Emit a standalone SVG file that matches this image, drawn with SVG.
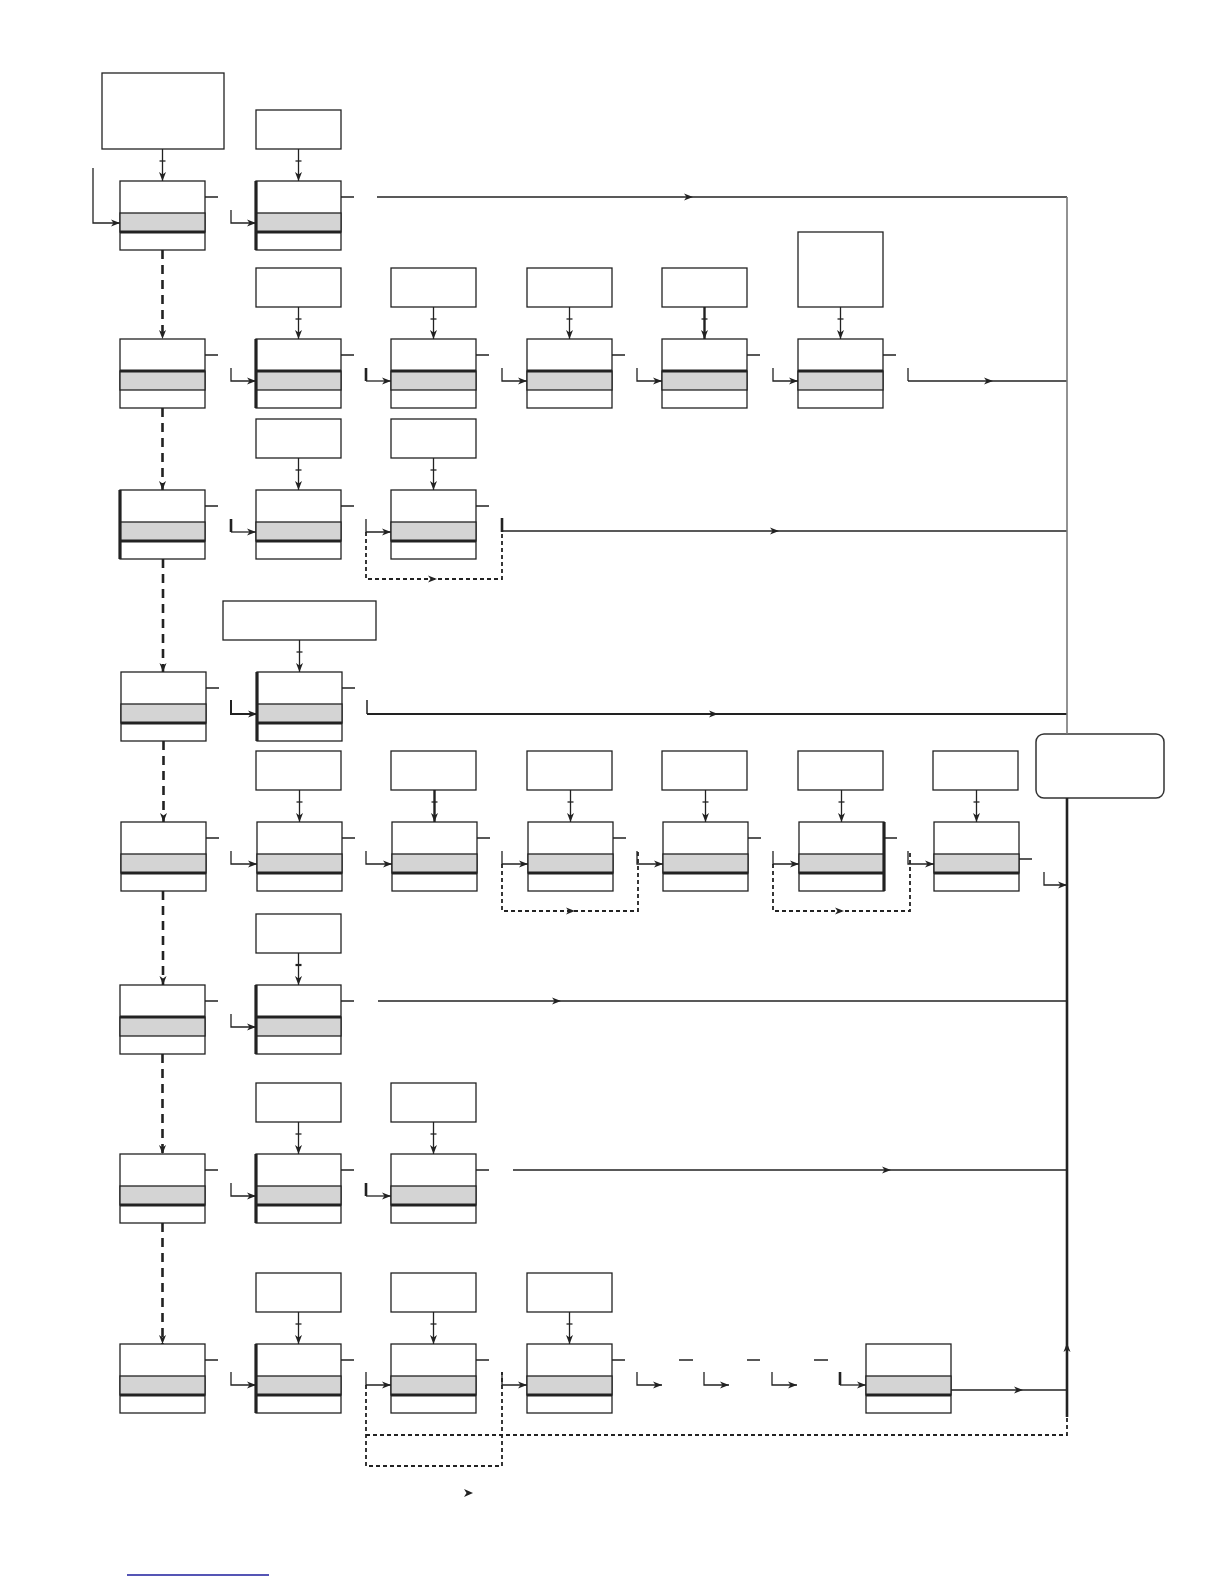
<svg xmlns="http://www.w3.org/2000/svg" width="1224" height="1584" viewBox="0 0 1224 1584">
<style>
.nb{fill:#fff;stroke:#222;stroke-width:1.3}
.gr{fill:#d4d4d4;stroke:#222;stroke-width:1.3}
.tk{stroke:#222;stroke-width:3.2;fill:none}
.bx{fill:#fff;stroke:#222;stroke-width:1.3}
.ln{fill:none;stroke:#222;stroke-width:1.3}
.lt{fill:none;stroke:#222;stroke-width:2.6}
.ae{marker-end:url(#ah)}
.am{marker-mid:url(#ah)}
.da{fill:none;stroke:#222;stroke-width:2.6;stroke-dasharray:9 6}
.dl{fill:none;stroke:#222;stroke-width:1.8;stroke-dasharray:4 3}
</style>
<defs>
<marker id="ah" markerUnits="userSpaceOnUse" markerWidth="10" markerHeight="8" refX="9" refY="4" orient="auto"><path d="M0,0.5 L9,4 L0,7.5 L2.5,4 z" fill="#222"/></marker>
</defs>
<rect width="1224" height="1584" fill="#fff"/>

<!-- boxes -->
<g id="boxes">
<rect id="b1a" class="bx" x="102" y="73" width="122" height="76"/>
<rect id="b1b" class="bx" x="256" y="110" width="85" height="39"/>
<rect id="b2b" class="bx" x="256" y="268" width="85" height="39"/>
<rect id="b2c" class="bx" x="391" y="268" width="85" height="39"/>
<rect id="b2d" class="bx" x="527" y="268" width="85" height="39"/>
<rect id="b2e" class="bx" x="662" y="268" width="85" height="39"/>
<rect id="b2f" class="bx" x="798" y="232" width="85" height="75"/>
<rect id="b3b" class="bx" x="256" y="419" width="85" height="39"/>
<rect id="b3c" class="bx" x="391" y="419" width="85" height="39"/>
<rect id="b4b" class="bx" x="223" y="601" width="153" height="39"/>
<rect id="b5b" class="bx" x="256" y="751" width="85" height="39"/>
<rect id="b5c" class="bx" x="391" y="751" width="85" height="39"/>
<rect id="b5d" class="bx" x="527" y="751" width="85" height="39"/>
<rect id="b5e" class="bx" x="662" y="751" width="85" height="39"/>
<rect id="b5f" class="bx" x="798" y="751" width="85" height="39"/>
<rect id="b5g" class="bx" x="933" y="751" width="85" height="39"/>
<rect id="b6b" class="bx" x="256" y="914" width="85" height="39"/>
<rect id="b7b" class="bx" x="256" y="1083" width="85" height="39"/>
<rect id="b7c" class="bx" x="391" y="1083" width="85" height="39"/>
<rect id="b8b" class="bx" x="256" y="1273" width="85" height="39"/>
<rect id="b8c" class="bx" x="391" y="1273" width="85" height="39"/>
<rect id="b8d" class="bx" x="527" y="1273" width="85" height="39"/>
<rect id="rb" x="1036" y="734" width="128" height="64" rx="8" fill="#fff" stroke="#333" stroke-width="1.5"/>
</g>

<!-- nodes -->
<g id="n1a"><rect class="nb" x="120" y="181" width="85" height="69"/><rect class="gr" x="120" y="213" width="85" height="19"/><line class="tk" x1="120" y1="232" x2="205" y2="232"/></g>
<g id="n1b"><rect class="nb" x="256" y="181" width="85" height="69"/><rect class="gr" x="256" y="213" width="85" height="19"/><line class="tk" x1="256" y1="232" x2="341" y2="232"/><line class="tk" x1="256" y1="181" x2="256" y2="250"/></g>

<g id="n2a"><rect class="nb" x="120" y="339" width="85" height="69"/><rect class="gr" x="120" y="371" width="85" height="19"/><line class="tk" x1="120" y1="371" x2="205" y2="371"/></g>
<g id="n2b"><rect class="nb" x="256" y="339" width="85" height="69"/><rect class="gr" x="256" y="371" width="85" height="19"/><line class="tk" x1="256" y1="371" x2="341" y2="371"/><line class="tk" x1="256" y1="339" x2="256" y2="408"/></g>
<g id="n2c"><rect class="nb" x="391" y="339" width="85" height="69"/><rect class="gr" x="391" y="371" width="85" height="19"/><line class="tk" x1="391" y1="371" x2="476" y2="371"/></g>
<g id="n2d"><rect class="nb" x="527" y="339" width="85" height="69"/><rect class="gr" x="527" y="371" width="85" height="19"/><line class="tk" x1="527" y1="371" x2="612" y2="371"/></g>
<g id="n2e"><rect class="nb" x="662" y="339" width="85" height="69"/><rect class="gr" x="662" y="371" width="85" height="19"/><line class="tk" x1="662" y1="371" x2="747" y2="371"/></g>
<g id="n2f"><rect class="nb" x="798" y="339" width="85" height="69"/><rect class="gr" x="798" y="371" width="85" height="19"/><line class="tk" x1="798" y1="371" x2="883" y2="371"/></g>

<g id="n3a"><rect class="nb" x="120" y="490" width="85" height="69"/><rect class="gr" x="120" y="522" width="85" height="19"/><line class="tk" x1="120" y1="541" x2="205" y2="541"/><line class="tk" x1="120" y1="490" x2="120" y2="559"/></g>
<g id="n3b"><rect class="nb" x="256" y="490" width="85" height="69"/><rect class="gr" x="256" y="522" width="85" height="19"/><line class="tk" x1="256" y1="541" x2="341" y2="541"/></g>
<g id="n3c"><rect class="nb" x="391" y="490" width="85" height="69"/><rect class="gr" x="391" y="522" width="85" height="19"/><line class="tk" x1="391" y1="541" x2="476" y2="541"/></g>

<g id="n4a"><rect class="nb" x="121" y="672" width="85" height="69"/><rect class="gr" x="121" y="704" width="85" height="19"/><line class="tk" x1="121" y1="723" x2="206" y2="723"/></g>
<g id="n4b"><rect class="nb" x="257" y="672" width="85" height="69"/><rect class="gr" x="257" y="704" width="85" height="19"/><line class="tk" x1="257" y1="723" x2="342" y2="723"/><line class="tk" x1="257" y1="672" x2="257" y2="741"/></g>

<g id="n5a"><rect class="nb" x="121" y="822" width="85" height="69"/><rect class="gr" x="121" y="854" width="85" height="19"/><line class="tk" x1="121" y1="873" x2="206" y2="873"/></g>
<g id="n5b"><rect class="nb" x="257" y="822" width="85" height="69"/><rect class="gr" x="257" y="854" width="85" height="19"/><line class="tk" x1="257" y1="873" x2="342" y2="873"/></g>
<g id="n5c"><rect class="nb" x="392" y="822" width="85" height="69"/><rect class="gr" x="392" y="854" width="85" height="19"/><line class="tk" x1="392" y1="873" x2="477" y2="873"/></g>
<g id="n5d"><rect class="nb" x="528" y="822" width="85" height="69"/><rect class="gr" x="528" y="854" width="85" height="19"/><line class="tk" x1="528" y1="873" x2="613" y2="873"/></g>
<g id="n5e"><rect class="nb" x="663" y="822" width="85" height="69"/><rect class="gr" x="663" y="854" width="85" height="19"/><line class="tk" x1="663" y1="873" x2="748" y2="873"/></g>
<g id="n5f"><rect class="nb" x="799" y="822" width="85" height="69"/><rect class="gr" x="799" y="854" width="85" height="19"/><line class="tk" x1="799" y1="873" x2="884" y2="873"/><line class="tk" x1="884" y1="822" x2="884" y2="891"/></g>
<g id="n5g"><rect class="nb" x="934" y="822" width="85" height="69"/><rect class="gr" x="934" y="854" width="85" height="19"/><line class="tk" x1="934" y1="873" x2="1019" y2="873"/></g>

<g id="n6a"><rect class="nb" x="120" y="985" width="85" height="69"/><rect class="gr" x="120" y="1017" width="85" height="19"/><line class="tk" x1="120" y1="1017" x2="205" y2="1017"/></g>
<g id="n6b"><rect class="nb" x="256" y="985" width="85" height="69"/><rect class="gr" x="256" y="1017" width="85" height="19"/><line class="tk" x1="256" y1="1017" x2="341" y2="1017"/><line class="tk" x1="256" y1="985" x2="256" y2="1054"/></g>

<g id="n7a"><rect class="nb" x="120" y="1154" width="85" height="69"/><rect class="gr" x="120" y="1186" width="85" height="19"/><line class="tk" x1="120" y1="1205" x2="205" y2="1205"/></g>
<g id="n7b"><rect class="nb" x="256" y="1154" width="85" height="69"/><rect class="gr" x="256" y="1186" width="85" height="19"/><line class="tk" x1="256" y1="1205" x2="341" y2="1205"/><line class="tk" x1="256" y1="1154" x2="256" y2="1223"/></g>
<g id="n7c"><rect class="nb" x="391" y="1154" width="85" height="69"/><rect class="gr" x="391" y="1186" width="85" height="19"/><line class="tk" x1="391" y1="1205" x2="476" y2="1205"/></g>

<g id="n8a"><rect class="nb" x="120" y="1344" width="85" height="69"/><rect class="gr" x="120" y="1376" width="85" height="19"/><line class="tk" x1="120" y1="1395" x2="205" y2="1395"/></g>
<g id="n8b"><rect class="nb" x="256" y="1344" width="85" height="69"/><rect class="gr" x="256" y="1376" width="85" height="19"/><line class="tk" x1="256" y1="1395" x2="341" y2="1395"/><line class="tk" x1="256" y1="1344" x2="256" y2="1413"/></g>
<g id="n8c"><rect class="nb" x="391" y="1344" width="85" height="69"/><rect class="gr" x="391" y="1376" width="85" height="19"/><line class="tk" x1="391" y1="1395" x2="476" y2="1395"/></g>
<g id="n8d"><rect class="nb" x="527" y="1344" width="85" height="69"/><rect class="gr" x="527" y="1376" width="85" height="19"/><line class="tk" x1="527" y1="1395" x2="612" y2="1395"/></g>
<g id="n8z"><rect class="nb" x="866" y="1344" width="85" height="69"/><rect class="gr" x="866" y="1376" width="85" height="19"/><line class="tk" x1="866" y1="1395" x2="951" y2="1395"/></g>

<!-- connectors -->
<g id="connectors">
<!-- box to node arrows with ticks -->
<g class="ln">
<path class="ae" d="M162.5,149 V181"/><path d="M159.5,161 h6"/>
<path class="ae" d="M298.5,149 V181"/><path d="M295.5,161 h6"/>
<path class="ae" d="M298.5,307 V339"/><path d="M295.5,319 h6"/>
<path class="ae" d="M433.5,307 V339"/><path d="M430.5,319 h6"/>
<path class="ae" d="M569.5,307 V339"/><path d="M566.5,319 h6"/>
<path class="ae" d="M704.5,307 V339" stroke-width="2.4"/><path d="M701.5,319 h6"/>
<path class="ae" d="M840.5,307 V339"/><path d="M837.5,319 h6"/>
<path class="ae" d="M298.5,458 V490"/><path d="M295.5,470 h6"/>
<path class="ae" d="M433.5,458 V490"/><path d="M430.5,470 h6"/>
<path class="ae" d="M299.5,640 V672"/><path d="M296.5,652 h6"/>
<path class="ae" d="M299.5,790 V822"/><path d="M296.5,802 h6"/>
<path class="ae" d="M434.5,790 V822" stroke-width="2.4"/><path d="M431.5,802 h6"/>
<path class="ae" d="M570.5,790 V822"/><path d="M567.5,802 h6"/>
<path class="ae" d="M705.5,790 V822"/><path d="M702.5,802 h6"/>
<path class="ae" d="M841.5,790 V822"/><path d="M838.5,802 h6"/>
<path class="ae" d="M976.5,790 V822"/><path d="M973.5,802 h6"/>
<path class="ae" d="M298.5,953 V985"/><path d="M295.5,965 h6" stroke-width="2.2"/>
<path class="ae" d="M298.5,1122 V1154"/><path d="M295.5,1134 h6"/>
<path class="ae" d="M433.5,1122 V1154"/><path d="M430.5,1134 h6"/>
<path class="ae" d="M298.5,1312 V1344"/><path d="M295.5,1324 h6"/>
<path class="ae" d="M433.5,1312 V1344"/><path d="M430.5,1324 h6"/>
<path class="ae" d="M569.5,1312 V1344"/><path d="M566.5,1324 h6"/>
</g>

<!-- dashed vertical column A -->
<g class="da">
<path class="ae" d="M162.5,250 V339"/>
<path class="ae" d="M162.5,408 V490"/>
<path class="ae" d="M163,559 V672"/>
<path class="ae" d="M163.5,741 V822"/>
<path class="ae" d="M163,891 V985"/>
<path class="ae" d="M162.5,1054 V1154"/>
<path class="ae" d="M162.5,1223 V1344"/>
</g>

<!-- stubs -->
<g class="ln">
<path d="M205,197 h13 M341,197 h13"/>
<path d="M205,355 h13 M341,355 h13 M476,355 h13 M612,355 h13 M747,355 h13 M883,355 h13"/>
<path d="M205,506 h13 M341,506 h13 M476,506 h13"/>
<path d="M206,688 h13 M342,688 h13"/>
<path d="M206,838 h13 M342,838 h13 M477,838 h13 M613,838 h13 M748,838 h13 M884,838 h13 M1019,859 h13"/>
<path d="M205,1001 h13 M341,1001 h13"/>
<path d="M205,1170 h13 M341,1170 h13 M476,1170 h13"/>
<path d="M205,1360 h13 M341,1360 h13 M476,1360 h13 M612,1360 h13 M679,1360 h14 M747,1360 h13 M814,1360 h14"/>
</g>

<!-- entries -->
<g class="ln">
<path class="ae" d="M93,168 V223 H120"/>
<path class="ae" d="M231,210 V223 H256"/>
<path class="ae" d="M231,368 V381 H256"/>
<path class="ae" d="M502,368 V381 H527"/>
<path class="ae" d="M637,368 V381 H662"/>
<path class="ae" d="M773,368 V381 H798"/>
<path class="ae" d="M366,381 H391"/>
<path class="ae" d="M231,532 H256"/>
<path class="ae" d="M366,519 V532 H391"/>
<path class="ae" d="M231,851 V864 H257"/>
<path class="ae" d="M366,851 V864 H392"/>
<path class="ae" d="M502,851 V864 H528"/>
<path class="ae" d="M637,851 V864 H663"/>
<path class="ae" d="M773,851 V864 H799"/>
<path class="ae" d="M908,851 V864 H934"/>
<path class="ae" d="M1044,872 V885 H1067"/>
<path class="ae" d="M231,1014 V1027 H256"/>
<path class="ae" d="M231,1183 V1196 H256"/>
<path class="ae" d="M366,1196 H391"/>
<path class="ae" d="M231,1372 V1385 H256"/>
<path class="ae" d="M366,1372 V1385 H391"/>
<path class="ae" d="M502,1372 V1385 H527"/>
<path class="ae" d="M637,1372 V1385 H662"/>
<path class="ae" d="M704,1372 V1385 H729"/>
<path class="ae" d="M772,1372 V1385 H797"/>
<path class="ae" d="M840,1385 H866"/>
</g>
<g class="lt">
<path d="M366,368 V381"/>
<path d="M231,519 V532"/>
<path d="M366,1183 V1196"/>
<path d="M840,1372 V1385"/>
<path d="M502,518 V532"/>
</g>
<path class="ae" d="M231,700 V714 H257" fill="none" stroke="#222" stroke-width="2"/>

<!-- long lines to the right -->
<g class="ln">
<path class="am" d="M377,197 L693,197 L1067,197"/>
<path d="M908,368 V381"/>
<path class="am" d="M908,381 L993,381 L1067,381"/>
<path class="am" d="M502,531 L779,531 L1067,531"/>
<path class="am" d="M378,1001 L561,1001 L1067,1001"/>
<path class="am" d="M513,1170 L891,1170 L1067,1170"/>
<path class="am" d="M951,1390 L1023,1390 L1067,1390"/>
</g>
<path d="M367,700 V714" fill="none" stroke="#222" stroke-width="1.5"/>
<path class="am" d="M367,714 L718,714 L1067,714" fill="none" stroke="#222" stroke-width="2.2"/>

<!-- dashed loops -->
<g class="dl">
<path d="M366,532 V579 H502 V518"/>
<path d="M502,864 V911 H638 V851"/>
<path d="M773,864 V911 H910 V851"/>
<path d="M366,1385 V1466 H502 V1372"/>
<path d="M366,1435 H1067 V1415"/>
</g>
<g class="ln">
<path class="am" d="M430,579 L437,579 L440,579" stroke="none"/>
<path class="am" d="M568,911 L575,911 L578,911" stroke="none"/>
<path class="am" d="M837,911 L844,911 L847,911" stroke="none"/>
</g>
<path d="M464,1489 L473,1493 L464,1497 L466.5,1493 z" fill="#222"/>

<!-- right vertical bus -->
<path d="M1067,197 V734" fill="none" stroke="#777" stroke-width="1.6"/>
<path d="M1067,798 V1417" fill="none" stroke="#222" stroke-width="2.6"/>
<path d="M1067,1355 V1343" fill="none" stroke="#222" stroke-width="1" marker-end="url(#ah)"/>
</g>

<path d="M127,1575 H269" stroke="#1c1c9c" stroke-width="1.6"/>
</svg>
